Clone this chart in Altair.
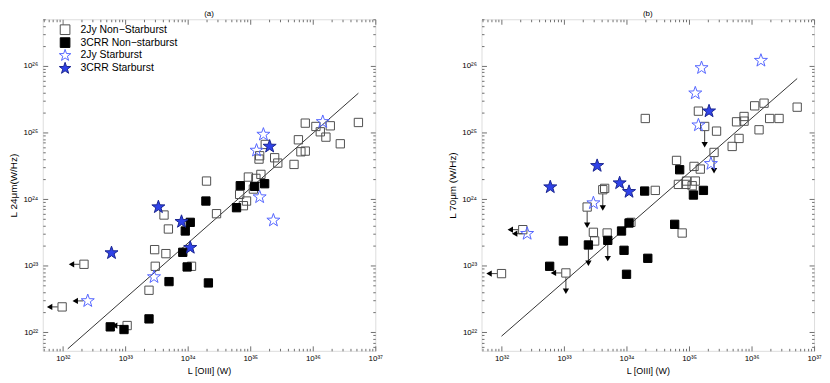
import altair as alt
import pandas as pd

FONT = "Liberation Sans"
FRAME = "#707070"
# five-pointed star, outer radius 1.25 (custom symbol path)
STAR = ("M0,-1.25L0.294,-0.405L1.189,-0.386L0.475,0.155L0.735,1.011L0,0.5"
        "L-0.735,1.011L-0.475,0.155L-1.189,-0.386L-0.294,-0.405Z")
SERIES = ["2Jy Non\u2212Starburst", "3CRR Non\u2212starburst", "2Jy Starburst", "3CRR Starburst"]
SHAPES = ["square", "square", STAR, STAR]
FILLS = ["transparent", "#000000", "transparent", "#2f42e8"]
STROKES = ["#505050", "#000000", "#5566ff", "#1a2590"]
SIZES = [70, 70, 122, 122]

# ---------------- panel (a): log10 L[OIII] (W) vs log10 L24um (W/Hz) ----------------
a_nsb2_x = [34.30, 34.46, 33.62, 33.69, 33.47, 33.65, 33.48, 34.06, 33.38, 32.34, 31.99, 33.03,
            34.89, 34.83, 34.94, 34.97, 35.09, 35.17, 35.05, 35.15, 35.14, 35.24, 35.39, 35.44,
            35.70, 35.77, 35.81, 35.88, 35.88, 36.05, 36.12, 36.21, 36.28, 36.44, 36.73]
a_nsb2_y = [24.27, 23.78, 23.76, 23.55, 23.24, 23.18, 22.99, 22.99, 22.63, 23.02, 22.38, 22.10,
            23.90, 24.07, 23.97, 24.33, 24.31, 24.37, 24.15, 24.65, 24.60, 24.82, 24.62, 24.54,
            24.52, 24.89, 24.71, 24.72, 25.14, 25.09, 25.01, 24.93, 25.10, 24.83, 25.15]
a_nsb2_lim = ["", "", "", "", "", "", "", "", "", "L", "L", "L"] + [""] * 23

a_nsb3_x = [34.29, 34.04, 33.96, 33.92, 33.99, 33.70, 34.33, 33.38, 32.76, 32.98, 34.84, 35.07, 35.23, 34.78]
a_nsb3_y = [23.97, 23.65, 23.52, 23.20, 22.98, 22.76, 22.74, 22.20, 22.08, 22.04, 24.20, 24.19, 24.23, 23.87]
a_nsb3_lim = [""] * 14

a_sb2_x = [33.46, 32.40, 35.21, 35.10, 35.15, 35.37, 36.16]
a_sb2_y = [22.83, 22.47, 24.97, 24.73, 24.03, 23.68, 25.16]
a_sb2_lim = ["", "L", "", "", "", "", ""]

a_sb3_x = [33.53, 33.90, 34.04, 32.78, 35.31]
a_sb3_y = [23.88, 23.66, 23.27, 23.19, 24.79]
a_sb3_lim = [""] * 5

a_fit_x = [32.08, 36.73]
a_fit_y = [21.75, 25.59]

# ---------------- panel (b): log10 L[OIII] (W) vs log10 L70um (W/Hz) ----------------
b_nsb2_x = [33.62, 33.65, 33.37, 34.46, 34.07, 33.47, 33.69, 33.49, 33.03, 32.34, 32.00, 34.30,
            35.15, 35.25, 35.44, 34.80, 35.08, 35.18, 35.40, 34.83, 34.96, 34.95, 35.05, 35.10,
            34.89, 36.05, 36.20, 35.88, 35.76, 35.88, 36.29, 36.44, 36.73, 36.12, 35.80, 35.69]
b_nsb2_y = [24.14, 24.16, 23.88, 24.13, 23.65, 23.50, 23.49, 23.37, 22.89, 23.54, 22.88, 25.21,
            25.32, 25.09, 25.02, 24.58, 24.49, 24.45, 24.70, 24.22, 24.27, 24.22, 24.20, 24.27,
            23.49, 25.40, 25.44, 25.24, 25.16, 25.17, 25.21, 25.21, 25.38, 25.04, 24.91, 24.79]
b_nsb2_lim = ["D", "", "D", "", "", "", "", "", "LD", "L", "L", "", "", "D", "", "", "", "", "D"] + [""] * 17

b_nsb3_x = [34.29, 34.04, 33.92, 33.39, 33.70, 32.99, 33.96, 34.34, 34.00, 32.77, 34.85, 35.23, 35.07, 34.77]
b_nsb3_y = [24.12, 23.64, 23.52, 23.31, 23.38, 23.37, 23.23, 23.11, 22.87, 22.99, 24.44, 24.13, 24.06, 23.62]
b_nsb3_lim = ["", "", "", "D", "D"] + [""] * 9

b_sb2_x = [33.47, 32.41, 36.15, 35.20, 35.10, 35.15, 35.35]
b_sb2_y = [23.94, 23.48, 26.08, 25.97, 25.59, 25.11, 24.53]
b_sb2_lim = ["", "L", "", "", "", "", ""]

b_sb3_x = [33.53, 32.78, 33.89, 34.04, 35.32]
b_sb3_y = [24.50, 24.18, 24.24, 24.11, 25.32]
b_sb3_lim = [""] * 5

b_fit_x = [32.00, 36.73]
b_fit_y = [21.94, 25.81]

W, H = 335, 334
XDOM = [10 ** 31.68, 10 ** 37.0]
YDOM = [10 ** 21.72, 10 ** 26.70]

SUP = str.maketrans("0123456789", "\u2070\u00b9\u00b2\u00b3\u2074\u2075\u2076\u2077\u2078\u2079")


def label_expr(lo, hi):
    e = "''"
    for n in range(hi, lo - 1, -1):
        e = f"(round(log(datum.value)/LN10) == {n} ? '10{str(n).translate(SUP)}' : {e})"
    return e


def majors(lo, hi, dom):
    return [10.0 ** n for n in range(lo, hi + 1) if dom[0] <= 10.0 ** n <= dom[1] * 1.0001]


def minors(lo, hi, dom):
    vals = []
    for n in range(lo, hi + 1):
        for k in range(2, 10):
            v = float(k) * 10.0 ** n
            if dom[0] <= v <= dom[1]:
                vals.append(v)
    return vals


XMAJ, XMIN = majors(31, 37, XDOM), minors(31, 37, XDOM)
YMAJ, YMIN = majors(21, 26, YDOM), minors(21, 26, YDOM)


def label_axis(orient, values, lo, hi, title, pad, tsize):
    return alt.Axis(orient=orient, values=values, ticks=False, domain=False, grid=False,
                    labelFlush=False, labelOverlap=False, labelExpr=label_expr(lo, hi),
                    labelFont=FONT, labelFontSize=8, labelColor="black", labelPadding=pad,
                    title=title, titleFont=FONT, titleFontSize=tsize, titleFontWeight="normal",
                    titleColor="black", titlePadding=4)


def tick_axis(orient, values, size, offset):
    return alt.Axis(orient=orient, values=values, offset=offset, tickSize=size, tickColor=FRAME,
                    tickWidth=1, labels=False, domain=False, grid=False, title=None)


def build(groups):
    rows = []
    for i, (xs, ys, lims) in enumerate(groups):
        for x, y, l in zip(xs, ys, lims):
            rows.append({"series": SERIES[i], "ord": i, "sz": SIZES[i],
                         "x": 10 ** x, "y": 10 ** y, "lim": l})
    return pd.DataFrame(rows)


def panel(groups, fit_x, fit_y, ytitle, title, show_legend):
    df = build(groups)
    xs = alt.Scale(type="log", domain=XDOM, nice=False)
    ys = alt.Scale(type="log", domain=YDOM, nice=False)
    xa = label_axis("bottom", XMAJ, 31, 37, "L [OIII] (W)", 4, 9)
    ya = label_axis("left", YMAJ, 21, 26, ytitle, 5, 10)
    X = lambda f: alt.X(f"{f}:Q", scale=xs, axis=xa)
    Y = lambda f: alt.Y(f"{f}:Q", scale=ys, axis=ya)

    if show_legend:
        leg = alt.Legend(title=None, orient="none", legendX=17, legendY=5, labelFont=FONT,
                         labelFontSize=10.5, labelColor="black", symbolStrokeWidth=1, symbolSize=95,
                         labelOffset=10, rowPadding=-5, padding=0)
    else:
        leg = None
    points = alt.Chart(df).mark_point(opacity=1, strokeWidth=1).encode(
        x=X("x"), y=Y("y"),
        shape=alt.Shape("series:N", scale=alt.Scale(domain=SERIES, range=SHAPES), legend=leg),
        fill=alt.Fill("series:N", scale=alt.Scale(domain=SERIES, range=FILLS), legend=leg),
        stroke=alt.Stroke("series:N", scale=alt.Scale(domain=SERIES, range=STROKES), legend=leg),
        size=alt.Size("sz:Q", scale=None, legend=None),
        order=alt.Order("ord:Q"),
    )

    left = df[df["lim"].str.contains("L")].copy()
    left["xs"] = left["x"] * 10 ** -0.07
    left["xe"] = left["x"] * 10 ** -0.20
    down = df[df["lim"].str.contains("D")].copy()
    down["ys"] = down["y"] * 10 ** -0.065
    down["ye"] = down["y"] * 10 ** -0.275

    layers = []
    if len(left):
        layers.append(alt.Chart(left).mark_rule(color="#404040", strokeWidth=1).encode(
            x=X("xs"), x2="xe:Q", y=Y("y")))
        layers.append(alt.Chart(left).mark_point(shape="triangle-left", filled=True, color="black",
                                                 opacity=1, size=40).encode(x=X("xe"), y=Y("y")))
    if len(down):
        layers.append(alt.Chart(down).mark_rule(color="#404040", strokeWidth=1).encode(
            x=X("x"), y=Y("ys"), y2="ye:Q"))
        layers.append(alt.Chart(down).mark_point(shape="triangle-down", filled=True, color="black",
                                                 opacity=1, size=40).encode(x=X("x"), y=Y("ye")))
    fit = pd.DataFrame({"x": [10 ** v for v in fit_x], "y": [10 ** v for v in fit_y]})
    layers.append(alt.Chart(fit).mark_line(color="black", strokeWidth=0.8).encode(x=X("x"), y=Y("y")))
    layers.append(points)
    data_layer = alt.layer(*layers)

    # inward ticks on all four sides (major and minor), drawn with flipped axes
    tick_layers = []
    for xo, yo, off_x, off_y in [("top", "right", -H, -W), ("bottom", "left", -H, -W)]:
        for xv, yv, sz in [(XMAJ, YMAJ, 5), (XMIN, YMIN, 2.5)]:
            tick_layers.append(alt.Chart(df).mark_point(opacity=0).encode(
                x=alt.X("x:Q", scale=xs, axis=tick_axis(xo, xv, sz, off_x)),
                y=alt.Y("y:Q", scale=ys, axis=tick_axis(yo, yv, sz, off_y)),
            ))

    return alt.layer(data_layer, *tick_layers).resolve_axis(x="independent", y="independent").properties(
        width=W, height=H,
        title=alt.TitleParams(title, font=FONT, fontSize=8, fontWeight="normal", color="black",
                              offset=1, anchor="middle", frame="group"),
    )


pa = panel([(a_nsb2_x, a_nsb2_y, a_nsb2_lim), (a_nsb3_x, a_nsb3_y, a_nsb3_lim),
            (a_sb2_x, a_sb2_y, a_sb2_lim), (a_sb3_x, a_sb3_y, a_sb3_lim)],
           a_fit_x, a_fit_y, "L 24\u03bcm(W/Hz)", "(a)", True)
pb = panel([(b_nsb2_x, b_nsb2_y, b_nsb2_lim), (b_nsb3_x, b_nsb3_y, b_nsb3_lim),
            (b_sb2_x, b_sb2_y, b_sb2_lim), (b_sb3_x, b_sb3_y, b_sb3_lim)],
           b_fit_x, b_fit_y, "L 70\u03bcm (W/Hz)", "(b)", False)

chart = alt.hconcat(pa, pb, spacing=64).resolve_scale(
    shape="independent", fill="independent", stroke="independent",
    x="independent", y="independent",
).properties(padding={"left": 0, "top": 0, "right": 0, "bottom": 0}).configure_view(
    stroke=FRAME, strokeWidth=1.5
).configure(background="white")

chart.save("out.html", embed_options={"renderer": "svg", "actions": False})
